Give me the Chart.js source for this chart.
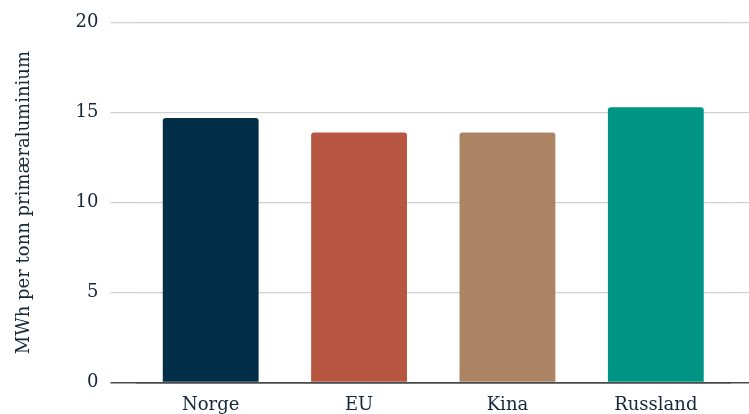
<!DOCTYPE html>
<html>
<head>
<meta charset="utf-8">
<script src="https://cdn.jsdelivr.net/npm/chart.js@4/dist/chart.umd.min.js"></script>
<style>
  html, body { margin: 0; padding: 0; background: #fff; }
  #wrap { width: 749px; height: 414px; }
</style>
</head>
<body>
<div id="wrap"><canvas id="energyChart"></canvas></div>
<script>
// Strømforbruk per tonn primæraluminium
const regions = ['Norge', 'EU', 'Kina', 'Russland'];
const mwhPerTonn = [14.7, 13.9, 13.9, 15.3];
const barColors = ['#032e47', '#b75741', '#ab8463', '#009484'];
const yTicks = [0, 5, 10, 15, 20];

const textColor = '#15273a';
const gridColor = '#cfcfcf';
const zeroColor = '#4a4a4a';
const lineColor = ctx => (ctx.tick && ctx.tick.value === 0 ? zeroColor : gridColor);
const lineWidth = ctx => (ctx.tick && ctx.tick.value === 0 ? 1.5 : 1.2);

Chart.defaults.font.family = '"DejaVu Serif", serif';
Chart.defaults.color = textColor;

const ctx = document.getElementById('energyChart').getContext('2d');
const energyChart = new Chart(ctx, {
  type: 'bar',
  data: {
    labels: regions,
    datasets: [{
      data: mwhPerTonn,
      backgroundColor: barColors,
      borderRadius: 3,
      borderSkipped: 'start',
      categoryPercentage: 1,
      barPercentage: 0.646
    }]
  },
  options: {
    responsive: true,
    maintainAspectRatio: false,
    animation: false,
    layout: { padding: { top: 4, left: 14, right: 0, bottom: -14 } },
    plugins: {
      legend: { display: false },
      tooltip: { enabled: false }
    },
    scales: {
      x: {
        grid: { display: false, drawTicks: false },
        border: { display: true, color: zeroColor, width: 1.5, z: 1 },
        ticks: { font: { size: 18 }, color: textColor, padding: 12 }
      },
      y: {
        min: 0,
        max: 20,
        afterBuildTicks: scale => { scale.ticks = yTicks.map(v => ({ value: v })); },
        grid: {
          color: lineColor,
          lineWidth: lineWidth,
          tickLength: 26,
          tickColor: lineColor
        },
        border: { display: false },
        ticks: { font: { size: 18 }, color: textColor, padding: 12 },
        title: {
          display: true,
          text: 'MWh per tonn primæraluminium',
          font: { size: 18 },
          color: textColor,
          padding: { top: 0, bottom: 28 }
        }
      },
      yRight: {
        position: 'right',
        min: 0,
        max: 20,
        afterBuildTicks: scale => { scale.ticks = yTicks.map(v => ({ value: v })); },
        grid: {
          drawOnChartArea: false,
          color: lineColor,
          lineWidth: lineWidth,
          tickLength: 19,
          tickColor: lineColor
        },
        border: { display: false },
        ticks: { display: false }
      }
    }
  }
});
</script>
</body>
</html>
